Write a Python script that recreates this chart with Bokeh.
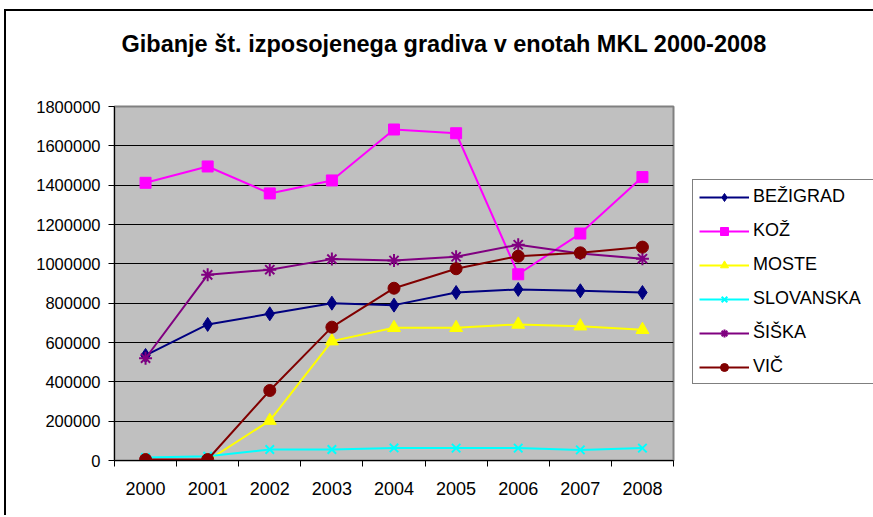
from bokeh.plotting import figure
from bokeh.models import Legend, LegendItem, FixedTicker, BasicTickFormatter, Range1d, Title
from bokeh.embed import file_html
from bokeh.resources import INLINE

years = ["2000", "2001", "2002", "2003", "2004", "2005", "2006", "2007", "2008"]
bezigrad = [534000, 692000, 746000, 800000, 790000, 854000, 870000, 863000, 854000]
koz = [1412000, 1495000, 1358000, 1424000, 1683000, 1664000, 947000, 1154000, 1441000]
moste = [0, 0, 203000, 607000, 675000, 675000, 692000, 683000, 665000]
slovanska = [15000, 22000, 56000, 56000, 64000, 63000, 63000, 54000, 63000]
siska = [520000, 944000, 970000, 1024000, 1017000, 1036000, 1097000, 1053000, 1026000]
vic = [5000, 5000, 356000, 678000, 876000, 975000, 1039000, 1056000, 1085000]

series = [
    ("BEŽIGRAD", bezigrad, "#000080", "diamond", 14),
    ("KOŽ", koz, "#FF00FF", "square", 11),
    ("MOSTE", moste, "#FFFF00", "triangle", 13),
    ("SLOVANSKA", slovanska, "#00FFFF", "x", 12),
    ("ŠIŠKA", siska, "#800080", "asterisk", 13),
    ("VIČ", vic, "#800000", "circle", 12),
]

FONT = "Liberation Sans"
xs = list(range(len(years)))

p = figure(
    title=None,
    frame_width=559, frame_height=354,
    min_border_left=108, min_border_right=0, min_border_top=95, min_border_bottom=55,
    output_backend="svg", toolbar_location=None,
    x_range=Range1d(-0.5, len(years) - 0.5), y_range=Range1d(0, 1800000),
)
p.styles = {"margin-left": "4px", "margin-top": "9px",
            "border-left": "2px solid black", "border-top": "2px solid black"}
p.background_fill_color = "#C0C0C0"
p.outline_line_color = "#808080"
p.outline_line_width = 2

spacer = Title(text=" ", text_font_size="10px", standoff=32, text_color="white")
p.add_layout(spacer, "above")
title = Title(text="Gibanje št. izposojenega gradiva v enotah MKL 2000-2008",
              text_font=FONT, text_font_size="23.5px", text_font_style="bold",
              text_color="black", align="left", offset=7, standoff=10)
p.add_layout(title, "above")

p.xgrid.grid_line_color = None
p.ygrid.grid_line_color = "black"
p.ygrid.grid_line_width = 1
p.ygrid.ticker = FixedTicker(ticks=list(range(0, 1800001, 200000)))

p.xaxis.ticker = FixedTicker(ticks=xs, minor_ticks=[i - 0.5 for i in range(len(years) + 1)])
p.xaxis.major_label_overrides = {i: y for i, y in enumerate(years)}
p.xaxis.major_tick_out = 0
p.xaxis.major_tick_in = 0
p.xaxis.minor_tick_out = 6
p.xaxis.minor_tick_in = 0
p.xaxis.axis_line_color = "black"
p.xaxis.minor_tick_line_color = "black"
p.xaxis.major_label_standoff = 15
p.xaxis.major_label_text_font = FONT
p.xaxis.major_label_text_font_size = "18px"
p.xaxis.major_label_text_color = "black"

p.yaxis.ticker = FixedTicker(ticks=list(range(0, 1800001, 200000)), minor_ticks=[])
p.yaxis.formatter = BasicTickFormatter(use_scientific=False)
p.yaxis.major_tick_out = 6
p.yaxis.major_tick_in = 0
p.yaxis.major_tick_line_color = "black"
p.yaxis.axis_line_color = "black"
p.yaxis.major_label_standoff = 8
p.yaxis.major_label_text_font = FONT
p.yaxis.major_label_text_font_size = "16.5px"
p.yaxis.major_label_text_color = "black"

items = []
for name, vals, color, marker, size in series:
    r1 = p.line(xs, vals, line_color=color, line_width=2)
    r2 = p.scatter(xs, vals, marker=marker, size=size, fill_color=color,
                   line_color=color, line_width=2 if marker in ("x", "asterisk") else 1)
    items.append(LegendItem(label=name, renderers=[r1, r2]))

legend = Legend(items=items, location=(19, 76), orientation="vertical")
legend.border_line_color = "black"
legend.border_line_width = 1
legend.background_fill_color = "white"
legend.background_fill_alpha = 1
legend.label_text_font = FONT
legend.label_text_font_size = "18px"
legend.label_text_color = "black"
legend.glyph_width = 50
legend.glyph_height = 20
legend.label_height = 20
legend.label_width = 130
legend.label_standoff = 4
legend.spacing = 13
legend.padding = 6
legend.margin = 0
p.add_layout(legend, "right")

open("out.html", "w").write(file_html(p, INLINE))
